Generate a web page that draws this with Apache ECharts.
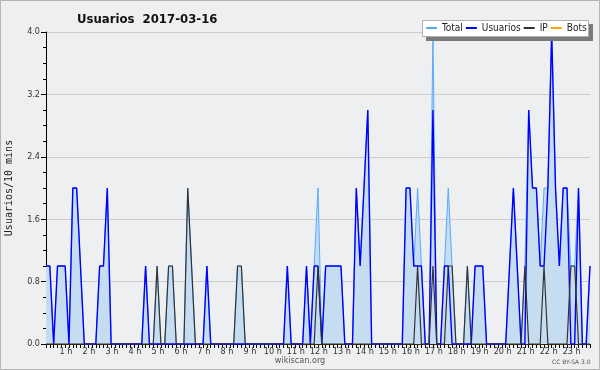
<!DOCTYPE html>
<html><head><meta charset="utf-8">
<script src="https://cdn.jsdelivr.net/npm/echarts@6/dist/echarts.min.js"></script>
<style>html,body{margin:0;padding:0;background:#eeeff1}#c{width:600px;height:370px}</style>
</head><body><div id="c"></div>
<script>
// 10-minute slots, 00:00 .. 23:40
var hourLabels = ['1 h','2 h','3 h','4 h','5 h','6 h','7 h','8 h','9 h','10 h','11 h','12 h','13 h','14 h','15 h','16 h','17 h','18 h','19 h','20 h','21 h','22 h','23 h'];
var yTicks = [0, 0.8, 1.6, 2.4, 3.2, 4.0];
var total = [
 1,1,0,1,1,1,0,2,2,1,0,0,
 0,0,1,1,2,0,0,0,0,0,0,0,
 0,0,1,0,0,1,0,0,1,1,0,0,
 0,2,1,0,0,0,1,0,0,0,0,0,
 0,0,1,1,0,0,0,0,0,0,0,0,
 0,0,0,1,0,0,0,0,1,0,1,2,
 0,1,1,1,1,1,0,0,0,2,1,2,
 3,0,0,0,0,0,0,0,0,0,2,2,
 1,2,1,0,0,4,0,0,1,2,1,0,
 0,0,1,0,1,1,1,0,0,0,0,0,
 0,1,2,1,0,1,3,2,2,1,2,2,
 4,2,1,2,2,1,1,2,0,0,1];
var usuarios = [
 1,1,0,1,1,1,0,2,2,1,0,0,
 0,0,1,1,2,0,0,0,0,0,0,0,
 0,0,1,0,0,0,0,0,0,0,0,0,
 0,0,0,0,0,0,1,0,0,0,0,0,
 0,0,0,0,0,0,0,0,0,0,0,0,
 0,0,0,1,0,0,0,0,1,0,1,1,
 0,1,1,1,1,1,0,0,0,2,1,2,
 3,0,0,0,0,0,0,0,0,0,2,2,
 1,1,1,0,0,3,0,0,1,1,0,0,
 0,0,0,0,1,1,1,0,0,0,0,0,
 0,1,2,1,0,0,3,2,2,1,1,2,
 4,2,1,2,2,0,0,2,0,0,1];
var ip = [
 0,0,0,0,0,0,0,0,0,0,0,0,
 0,0,0,0,0,0,0,0,0,0,0,0,
 0,0,0,0,0,1,0,0,1,1,0,0,
 0,2,1,0,0,0,0,0,0,0,0,0,
 0,0,1,1,0,0,0,0,0,0,0,0,
 0,0,0,0,0,0,0,0,0,0,0,1,
 0,0,0,0,0,0,0,0,0,0,0,0,
 0,0,0,0,0,0,0,0,0,0,0,0,
 0,1,0,0,0,1,0,0,0,1,1,0,
 0,0,1,0,0,0,0,0,0,0,0,0,
 0,0,0,0,0,1,0,0,0,0,1,0,
 0,0,0,0,0,1,1,0,0,0,0];
var bots = [
 0,0,0,0,0,0,0,0,0,0,0,0, 0,0,0,0,0,0,0,0,0,0,0,0,
 0,0,0,0,0,0,0,0,0,0,0,0, 0,0,0,0,0,0,0,0,0,0,0,0,
 0,0,0,0,0,0,0,0,0,0,0,0, 0,0,0,0,0,0,0,0,0,0,0,0,
 0,0,0,0,0,0,0,0,0,0,0,0, 0,0,0,0,0,0,0,0,0,0,0,0,
 0,0,0,0,0,0,0,0,0,0,0,0, 0,0,0,0,0,0,0,0,0,0,0,0,
 0,0,0,0,0,0,0,0,0,0,0,0, 0,0,0,0,0,0,0,0,0,0,0];

var categories = [];
for (var h = 0; h < 24; h++) for (var m = 0; m < 60; m += 10) categories.push((h<10?'0':'')+h+':'+(m<10?'0':'')+m);
categories = categories.slice(0, total.length);

var F = "'DejaVu Sans Condensed','DejaVu Sans',sans-serif";
var chart = echarts.init(document.getElementById('c'), null, {renderer:'canvas'});
chart.setOption({
  backgroundColor: '#eeeff1',
  animation: false,
  title: {text: 'Usuarios  2017-03-16', left: 72, top: 8,
    textStyle: {fontFamily: F, fontWeight: 'bold', fontSize: 13, color: '#111'}},
  grid: {left: 46, right: 10, top: 32, bottom: 26, containLabel: false, outerBoundsMode: 'none'},
  graphic: [
    {type:'rect', shape:{x:0.5,y:0.5,width:599,height:369}, style:{fill:'none', stroke:'#b4b4b4', lineWidth:1}, z:0, silent:true},
    {type:'rect', shape:{x:426,y:24,width:167,height:17}, style:{fill:'#7a7a7a'}, z:50, silent:true},
    {type:'rect', shape:{x:422.5,y:20.5,width:166,height:16}, style:{fill:'#ffffff', stroke:'#b0b0b0', lineWidth:1}, z:51, silent:true},
    {type:'text', left:'center', top:356, style:{text:'wikiscan.org', font:"9px 'DejaVu Sans Condensed'", fill:'#555'}, z:5},
    {type:'text', left:552, top:359, style:{text:'CC BY-SA 3.0', font:"6px 'DejaVu Sans'", fill:'#555'}, z:5}
  ],
  legend: {
    left: 422, top: 21, width: 240, z: 60, padding: [2, 2, 2, 4], itemGap: 3, itemWidth: 11, itemHeight: 2,
    icon: 'rect',
    textStyle: {fontFamily: F, fontSize: 10, color: '#222', padding: [0,0,0,0]},
    data: ['Total', 'Usuarios', 'IP', 'Bots']
  },
  xAxis: {
    type: 'category', data: categories, boundaryGap: false,
    axisLine: {lineStyle: {color: '#000', width: 1}},
    axisTick: {show: true, interval: 0, length: 4, lineStyle: {color: '#000'}},
    axisLabel: {
      interval: function (i) { return i > 0 && i % 6 === 0; },
      formatter: function (v, i) { return hourLabels[i/6 - 1]; },
      fontFamily: F, fontSize: 9, color: '#333', margin: 3, padding: [0, 6, 0, 0]
    },
    splitLine: {show: false}
  },
  yAxis: {
    type: 'value', min: yTicks[0], max: yTicks[yTicks.length-1], interval: 0.8,
    name: 'Usuarios/10 mins', nameLocation: 'middle', nameGap: 32,
    nameTextStyle: {fontFamily: "'DejaVu Sans Mono',monospace", fontSize: 10, color: '#222'},
    axisLine: {show: true, lineStyle: {color: '#000'}},
    axisTick: {show: true, length: 5, lineStyle: {color: '#000'}},
    minorTick: {show: true, splitNumber: 4, length: 3, lineStyle: {color: '#000'}},
    axisLabel: {formatter: function (v) { return v.toFixed(1); }, fontFamily: F, fontSize: 9, color: '#333', margin: 6},
    splitLine: {lineStyle: {color: '#cccccc', width: 1}}
  },
  series: [
    {name: 'Bots', type: 'line', data: bots, symbol: 'none', z: 1,
      itemStyle: {color: '#ffa500'}, lineStyle: {color: '#ffa500', width: 1}},
    {name: 'Total', type: 'line', data: total, symbol: 'none', z: 2,
      itemStyle: {color: '#55aaff'}, lineStyle: {color: '#55aaff', width: 1},
      areaStyle: {color: '#c6dcf0', opacity: 1}},
    {name: 'Usuarios', type: 'line', data: usuarios, symbol: 'none', z: 3,
      itemStyle: {color: '#0000ff'}, lineStyle: {color: '#0000ff', width: 1.4}},
    {name: 'IP', type: 'line', data: ip, symbol: 'none', z: 4,
      itemStyle: {color: '#333333'}, lineStyle: {color: '#333333', width: 1.2}}
  ]
});
</script></body></html>
